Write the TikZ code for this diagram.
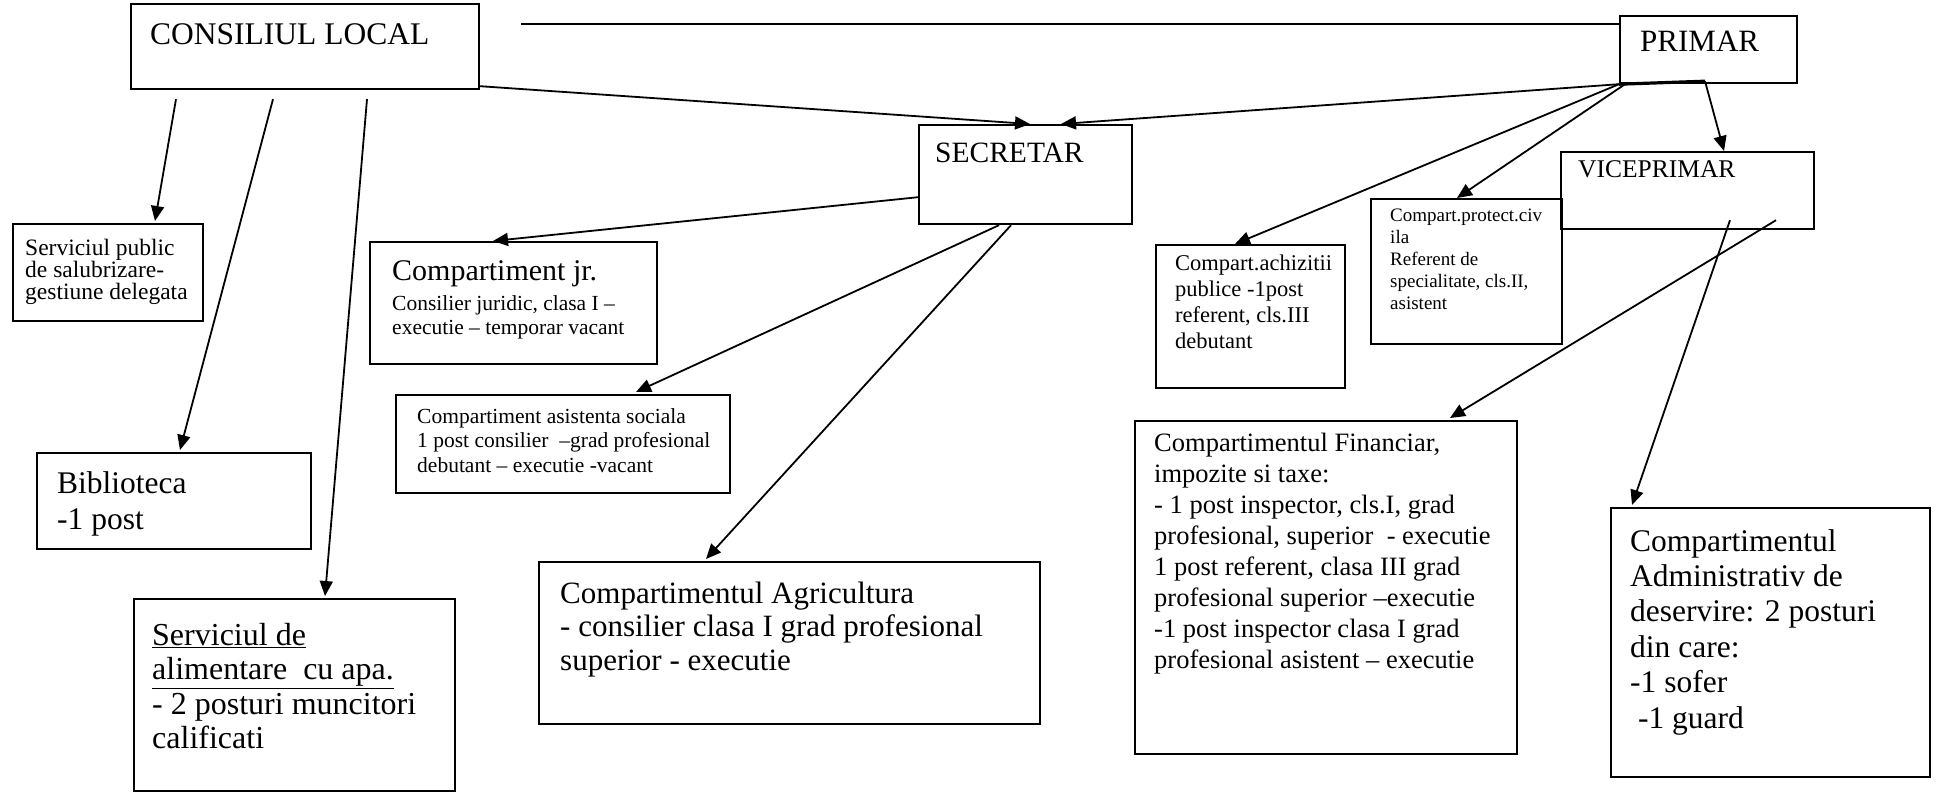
\documentclass[tikz,border=0pt]{standalone}
\usepackage{fontspec}
\setmainfont{Liberation Serif}
\usetikzlibrary{arrows.meta,calc}
\newcommand{\boxtext}[3]{{\fontsize{#1}{#2}\selectfont\begin{tabular}[t]{@{}l@{}}#3\end{tabular}}}
\tikzset{
  orgbox/.style={draw, line width=2.2pt, anchor=north west, inner sep=0pt},
  lbl/.style={anchor=base west, inner sep=0pt},
  arr/.style={line width=1.8pt, -{Triangle[length=15pt,width=13pt]}},
}
\begin{document}
\begin{tikzpicture}[x=1pt,y=-1pt]
\useasboundingbox (0,0) rectangle (1945,792);
% boxes
\node[orgbox, minimum width=348pt, minimum height=85pt] (cl) at (130,3) {};
\node[lbl] (cl-t) at (150,45) {\boxtext{31.5}{36}{CONSILIUL LOCAL}};
\node[orgbox, minimum width=177pt, minimum height=67pt] (pr) at (1619,15) {};
\node[lbl] (pr-t) at (1640,52) {\boxtext{31}{36}{PRIMAR}};
\node[orgbox, minimum width=213pt, minimum height=99pt] (sec) at (918,124) {};
\node[lbl] (sec-t) at (935,162) {\boxtext{29.5}{34}{SECRETAR}};
\node[orgbox, minimum width=253pt, minimum height=77pt] (vice) at (1560,151) {};
\node[lbl] (vice-t) at (1578,177) {\boxtext{25.5}{30}{VICEPRIMAR}};
\node[orgbox, minimum width=191pt, minimum height=145pt] (pro) at (1370,198) {};
\node[lbl] (pro-t) at (1390,221) {\boxtext{19}{22}{Compart.protect.civ\\ila\\Referent de\\specialitate, cls.II,\\asistent}};
\node[orgbox, minimum width=189pt, minimum height=143pt] (ach) at (1155,244) {};
\node[lbl] (ach-t) at (1175,270) {\boxtext{22.5}{26}{Compart.achizitii\\publice -1post\\referent, cls.III\\debutant}};
\node[orgbox, minimum width=190pt, minimum height=97pt] (sal) at (12,223) {};
\node[lbl] (sal-t) at (25,255) {\boxtext{23.5}{20}{Serviciul public\\de salubrizare-\\gestiune delegata}};
\node[orgbox, minimum width=287pt, minimum height=122pt] (jr) at (369,241) {};
\node[lbl] (jr-t) at (392,280) {\boxtext{30}{34}{Compartiment jr.}};
\node[lbl] (jr-s) at (392,310) {\boxtext{21.5}{24}{Consilier juridic, clasa I –\\executie – temporar vacant}};
\node[orgbox, minimum width=334pt, minimum height=98pt] (asi) at (395,394) {};
\node[lbl] (asi-t) at (417,423) {\boxtext{21.5}{24.5}{Compartiment asistenta sociala\\1 post consilier \ –grad profesional\\debutant – executie -vacant}};
\node[orgbox, minimum width=274pt, minimum height=96pt] (bib) at (36,452) {};
\node[lbl] (bib-t) at (57,493) {\boxtext{31.5}{36}{Biblioteca\\-1 post}};
\node[orgbox, minimum width=321pt, minimum height=192pt] (ali) at (133,598) {};
\node[lbl] (ali-t) at (152,645) {\boxtext{32}{34.5}{\underline{Serviciul de}\\\underline{alimentare \ cu apa.}\\- 2 posturi muncitori\\calificati}};
\node[orgbox, minimum width=501pt, minimum height=162pt] (agr) at (538,561) {};
\node[lbl] (agr-t) at (560,603) {\boxtext{31}{33.5}{Compartimentul Agricultura\\- consilier clasa I grad profesional\\superior - executie}};
\node[orgbox, minimum width=382pt, minimum height=333pt] (fin) at (1134,420) {};
\node[lbl] (fin-t) at (1154,451) {\boxtext{26.5}{31}{Compartimentul Financiar,\\impozite si taxe:\\- 1 post inspector, cls.I, grad\\profesional, superior \ - executie\\1 post referent, clasa III grad\\profesional superior –executie\\-1 post inspector clasa I grad\\profesional asistent – executie}};
\node[orgbox, minimum width=319pt, minimum height=269pt] (adm) at (1610,507) {};
\node[lbl] (adm-t) at (1630,551) {\boxtext{31.5}{35.4}{Compartimentul\\Administrativ de\\deservire: 2 posturi\\din care:\\-1 sofer\\\ -1 guard}};
% connectors
\coordinate (hl) at (521,24);
\draw[line width=2.6pt] (hl) -- ($(pr.north west)+(0,9)$);
\draw[line width=3.2pt] (pr.south west) -- ($(pr.south west)+(86,-3)$);
\draw[arr] ($(cl.south west)+(46,9)$) -- ($(sal.north west)+(143,-2)$);
\draw[arr] ($(cl.south west)+(143,9)$) -- ($(bib.north west)+(144,-2)$);
\draw[arr] ($(cl.south west)+(237,9)$) -- ($(ali.north west)+(192,-2)$);
\draw[arr] ($(cl.south east)+(0,-4)$) -- ($(sec.north west)+(112,0)$);
\draw[arr] (pr.south west) -- ($(sec.north west)+(143,0)$);
\draw[arr] ($(sec.south west)+(0,-28)$) -- ($(jr.north west)+(124,0)$);
\draw[arr] ($(sec.south west)+(81,0)$) -- ($(asi.north west)+(241,-2)$);
\draw[arr] ($(sec.south west)+(93,0)$) -- ($(agr.north west)+(168,-2)$);
\draw[arr] (pr.south west) -- ($(ach.north west)+(80,0)$);
\draw[arr] ($(pr.south west)+(6,0)$) -- ($(pro.north west)+(87,0)$);
\draw[arr] ($(pr.south west)+(86,-3)$) -- ($(vice.north west)+(164,0)$);
\draw[arr] ($(vice.south west)+(216,-10)$) -- ($(fin.north west)+(316,-2)$);
\draw[arr] ($(vice.south west)+(170,-10)$) -- ($(adm.north west)+(22,-2)$);
\end{tikzpicture}
\end{document}
